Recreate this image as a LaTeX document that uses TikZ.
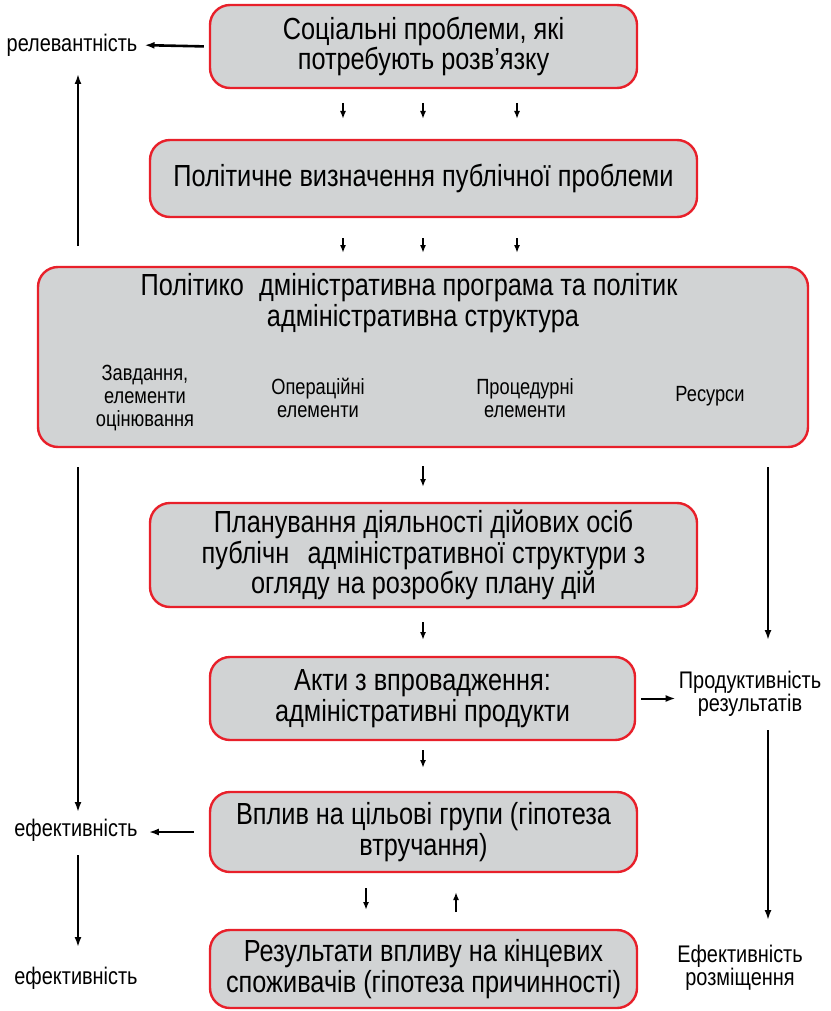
\documentclass[tikz,border=0pt]{standalone}
\usepackage{fontspec}
\setmainfont[FakeStretch=0.83]{Liberation Sans}
\newfontfamily\lblfont[FakeStretch=0.83]{Liberation Sans}
\usetikzlibrary{arrows.meta}
\definecolor{boxred}{HTML}{E8202A}
\definecolor{boxgray}{HTML}{D1D3D4}
\begin{document}
\begin{tikzpicture}[x=1pt,y=-1pt,
  box/.style={draw=boxred, fill=boxgray, line width=2.4pt, rounded corners=20pt, align=center, inner sep=0pt, font=\fontsize{30.5}{30.5}\selectfont},
  lbl/.style={align=center, inner sep=0pt, font=\lblfont\fontsize{24}{23}\selectfont},
  sub/.style={align=center, inner sep=0pt, font=\lblfont\fontsize{22}{23}\selectfont},
  arr/.style={line width=2pt, -{Latex[length=10pt,width=7pt]}},
  sarr/.style={line width=1.6pt, -{Latex[length=8pt,width=6pt]}}]
\useasboundingbox (0,0) rectangle (830,1011);
% boxes
\node[box, minimum width=427pt, minimum height=83pt] (b1) at (423.5,46.5) {Соціальні проблеми, які\\потребують розв’язку};
\node[box, minimum width=547pt, minimum height=77pt] (b2) at (423.5,178.5) {Політичне визначення публічної проблеми};
\node[box, minimum width=770pt, minimum height=180pt] (b3) at (423,357) {};
\node[inner sep=0pt, font=\fontsize{30.5}{30}\selectfont] (t1) at (409,288) {Політико\hspace{0.5em}дміністративна програма та політик};
\node[inner sep=0pt, font=\fontsize{30.5}{30}\selectfont] (t2) at (423,319) {адміністративна структура};
\node[sub] (s1) at (145,398) {Завдання,\\елементи\\оцінювання};
\node[sub] (s2) at (318,398) {Операційні\\елементи};
\node[sub] (s3) at (525,398) {Процедурні\\елементи};
\node[sub] (s4) at (710,396) {Ресурси};
\node[box, minimum width=547pt, minimum height=104pt] (b4) at (423.5,555) {Планування діяльності дійових осіб\\публічн\hspace{0.6em}адміністративної структури з\\огляду на розробку плану дій};
\node[box, minimum width=425pt, minimum height=83pt] (b5) at (422.5,698.5) {Акти з впровадження:\\адміністративні продукти};
\node[box, minimum width=427pt, minimum height=80pt] (b6) at (423.5,832) {Вплив на цільові групи (гіпотеза\\втручання)};
\node[box, minimum width=427pt, minimum height=78pt] (b7) at (423.5,969) {Результати впливу на кінцевих\\споживачів (гіпотеза причинності)};
% labels
\node[lbl] (rel) at (72,45) {релевантність};
\node[lbl] (ef1) at (76,830) {ефективність};
\node[lbl] (ef2) at (76,978) {ефективність};
\node[lbl] (prod) at (750,694) {Продуктивність\\результатів};
\node[lbl] (efr) at (740,968) {Ефективність\\розміщення};
% horizontal arrows
\draw[arr, line width=2.6pt, shorten <=5pt, shorten >=7pt] (b1.west) -- (rel.east);
\draw[arr, line width=2.6pt, shorten <=15pt, shorten >=11pt] (b6.west) -- (ef1.east |- b6.west);
\draw[arr, shorten <=5pt, shorten >=3pt] (b5.east) -- (prod.west |- b5.east);
% small vertical arrows
\foreach \x [count=\i] in {343,423,517}{
  \coordinate (a\i s) at (\x,103); \coordinate (a\i e) at (\x,119);
  \draw[sarr] (a\i s) -- (a\i e);
  \coordinate (c\i s) at (\x,238); \coordinate (c\i e) at (\x,253);
  \draw[sarr] (c\i s) -- (c\i e);
}
\coordinate (d1s) at (423,466); \coordinate (d1e) at (423,487);
\draw[sarr] (d1s) -- (d1e);
\coordinate (d2s) at (423,622); \coordinate (d2e) at (423,640);
\draw[sarr] (d2s) -- (d2e);
\coordinate (d3s) at (423,750); \coordinate (d3e) at (423,768);
\draw[sarr] (d3s) -- (d3e);
\coordinate (d4s) at (366,888); \coordinate (d4e) at (366,910);
\draw[sarr] (d4s) -- (d4e);
\coordinate (d5s) at (456,912); \coordinate (d5e) at (456,892);
\draw[sarr] (d5s) -- (d5e);
% left verticals
\coordinate (l1s) at (78,246); \coordinate (l1e) at (78,74);
\draw[arr] (l1s) -- (l1e);
\coordinate (l2s) at (78,467); \coordinate (l2e) at (78,812);
\draw[arr] (l2s) -- (l2e);
\coordinate (l3s) at (78,855); \coordinate (l3e) at (78,947);
\draw[arr] (l3s) -- (l3e);
% right verticals
\coordinate (r1s) at (768,467); \coordinate (r1e) at (768,640);
\draw[arr] (r1s) -- (r1e);
\coordinate (r2s) at (768,730); \coordinate (r2e) at (768,920);
\draw[arr] (r2s) -- (r2e);
\end{tikzpicture}
\end{document}
